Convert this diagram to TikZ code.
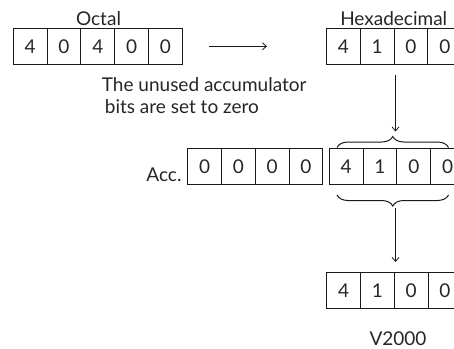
\documentclass[tikz,border=0pt]{standalone}
\usepackage{fontspec}
\setmainfont{Lato}
\usetikzlibrary{arrows.meta,decorations.pathreplacing}

\begin{document}
\begin{tikzpicture}[x=1pt,y=-1pt,>={Straight Barb[length=4pt,width=7pt]},
  font=\fontsize{19}{22}\selectfont,text=black!85,
  cell/.style={draw=black!90,line width=1.1pt,minimum width=33.8pt,minimum height=36pt,inner sep=0pt,outer sep=0pt},
  curly/.style={draw=black!90,line width=1pt,decorate,decoration={brace,amplitude=11pt}},
  link/.style={->,draw=black!90,line width=0.8pt}]
\useasboundingbox (0,0) rectangle (454,348);
% octal value
\foreach \d [count=\i] in {4,0,4,0,0}
  \node[cell] (oct\i) at ({13.3+(\i-0.5)*33.8},46.3) {\d};
\node[anchor=base,inner sep=0pt] (octlabel) at (98.5,25) {Octal};
% hex value
\foreach \d [count=\i] in {4,1,0,0}
  \node[cell] (hex\i) at ({326.5+(\i-0.5)*33.8},46.3) {\d};
\node[anchor=base,inner sep=0pt] (hexlabel) at (393.7,25) {Hexadecimal};
\draw[link,shorten <=27pt,shorten >=59.5pt] (oct5) -- (hex1);
% accumulator
\node[anchor=base west,align=left,inner sep=0pt] (note) at (101.7,113) {The unused accumulator\\\hspace{3pt}bits are set to zero};
\foreach \d [count=\i] in {0,0,0,0}
  \node[cell] (acc\i) at ({187.7+(\i-0.5)*33.8},166.3) {\d};
\foreach \d [count=\i from 5] in {4,1,0,0}
  \node[cell] (acc\i) at ({329.3+(\i-4.5)*33.8},166.3) {\d};
\node[anchor=base east,inner sep=0pt] (acclabel) at (181.7,181.7) {Acc.};
\draw[curly] (337,147.5) -- (448.5,147.5);
\draw[curly] (448.5,195) -- (337,195);
\coordinate (topbrace) at (395.5,136.5);
\coordinate (botbrace) at (395.5,206);
\draw[link,shorten <=11pt,shorten >=5pt] (hex3.south west -| topbrace) -- (topbrace);
% V-memory
\foreach \d [count=\i] in {4,1,0,0}
  \node[cell] (vm\i) at ({326.7+(\i-0.5)*33.8},290.5) {\d};
\node[anchor=base,inner sep=0pt] (vmlabel) at (398,345) {V2000};
\draw[link,shorten <=2pt,shorten >=10.5pt] (botbrace) -- (botbrace |- vm3.north);
\end{tikzpicture}
\end{document}
